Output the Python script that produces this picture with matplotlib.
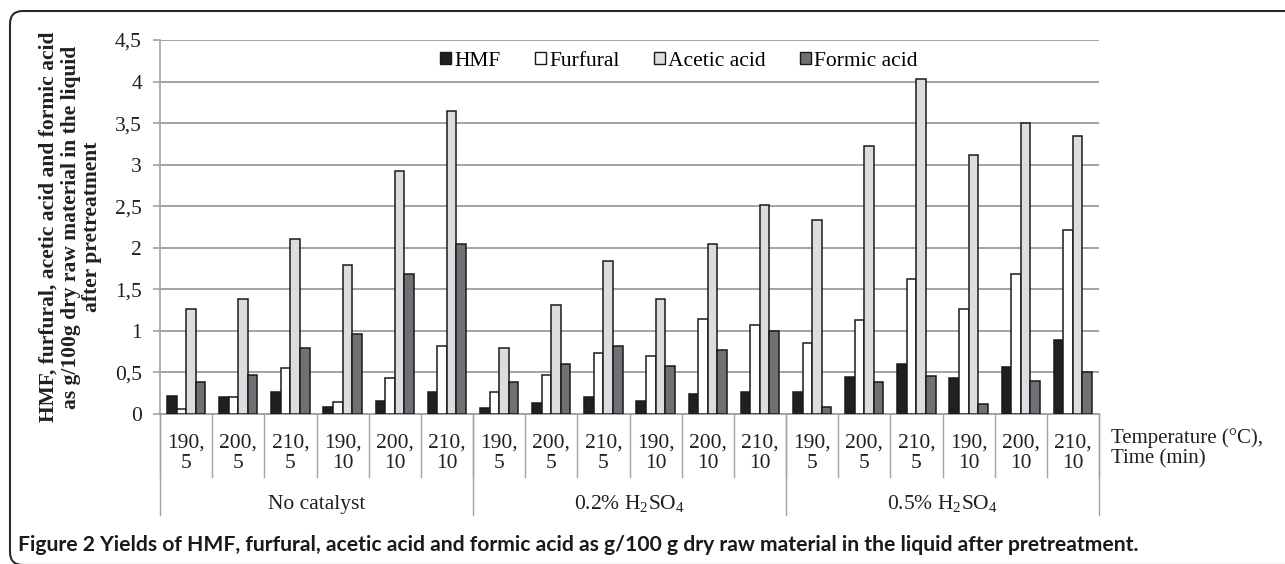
import matplotlib
matplotlib.use("Agg")
import matplotlib.pyplot as plt
from matplotlib.patches import FancyBboxPatch, Patch
from matplotlib.transforms import IdentityTransform, blended_transform_factory
from matplotlib.lines import Line2D
import numpy as np

# Pretreatment conditions: temperature (°C), time (min)
temps = ["190,", "200,", "210,", "190,", "200,", "210,"] * 3
times = ["5", "5", "5", "10", "10", "10"] * 3
groups = ["No catalyst",
          r"0.2% H$_\mathregular{2}$SO$_\mathregular{4}$",
          r"0.5% H$_\mathregular{2}$SO$_\mathregular{4}$"]

# Yields, g/100 g dry raw material
hmf = [0.22, 0.20, 0.27, 0.08, 0.16, 0.26,
       0.07, 0.13, 0.20, 0.16, 0.24, 0.26,
       0.27, 0.44, 0.60, 0.43, 0.57, 0.89]
furfural = [0.06, 0.20, 0.55, 0.14, 0.43, 0.82,
            0.26, 0.47, 0.73, 0.70, 1.14, 1.07,
            0.85, 1.13, 1.62, 1.26, 1.68, 2.21]
acetic = [1.26, 1.38, 2.10, 1.79, 2.92, 3.64,
          0.80, 1.31, 1.84, 1.38, 2.05, 2.52,
          2.34, 3.23, 4.03, 3.12, 3.50, 3.35]
formic = [0.38, 0.47, 0.80, 0.96, 1.69, 2.05,
          0.39, 0.60, 0.82, 0.58, 0.77, 1.00,
          0.08, 0.39, 0.46, 0.12, 0.40, 0.50]

series = [("HMF", hmf, "#231f20"),
          ("Furfural", furfural, "#ffffff"),
          ("Acetic acid", acetic, "#dcdddf"),
          ("Formic acid", formic, "#707174")]

yticks = [0, 0.5, 1, 1.5, 2, 2.5, 3, 3.5, 4, 4.5]
ytick_labels = ["0", "0,5", "1", "1,5", "2", "2,5", "3", "3,5", "4", "4,5"]

SERIF = "Liberation Serif"
TXT = "#231f20"
GRID = "#a3a3a3"
FS = 15.5

W, H = 1285, 564
fig = plt.figure(figsize=(W / 100, H / 100), dpi=100)
fig.patch.set_facecolor("white")

# rounded frame around the figure
frame = FancyBboxPatch((10, -1), 1400, H - 11 + 1,
                       boxstyle="round,pad=0,rounding_size=13",
                       transform=IdentityTransform(), fill=False,
                       edgecolor="#2a2a2a", linewidth=1.5, zorder=10)
fig.patches.append(frame)

ax_l, ax_r, ax_t, ax_b = 160, 1099, 40, 414
ax = fig.add_axes([ax_l / W, 1 - ax_b / H, (ax_r - ax_l) / W, (ax_b - ax_t) / H])

n = len(temps)
x = np.arange(n)
bw = 0.183
for k, (name, vals, col) in enumerate(series):
    ax.bar(x + (k - 1.5) * bw, vals, width=bw, color=col,
           edgecolor="#1a1a1a", linewidth=1.1, label=name, zorder=3)

ax.set_xlim(-0.5, n - 0.5)
ax.set_ylim(0, 4.5)
ax.set_yticks(yticks)
ax.set_yticklabels(ytick_labels, fontfamily=SERIF, fontsize=FS, color=TXT)
ax.yaxis.grid(True, color=GRID, linewidth=1.4, zorder=0)
ax.set_axisbelow(True)
ax.tick_params(axis="y", length=5, width=1.2, color=GRID, pad=8)
ax.set_xticks([])
for s in ["top", "right"]:
    ax.spines[s].set_visible(False)
ax.spines["left"].set_color(GRID)
ax.spines["left"].set_linewidth(1.2)
ax.spines["bottom"].set_color(GRID)
ax.spines["bottom"].set_linewidth(1.4)

ax.set_ylabel("HMF, furfural, acetic acid and formic acid\n"
              "as g/100g dry raw material in the liquid\n"
              "after pretreatment",
              fontfamily=SERIF, fontsize=15.5, fontweight="bold",
              color=TXT, linespacing=1.12, labelpad=9)

# multi-level category axis
trans = blended_transform_factory(ax.transData, fig.transFigure)
fy = lambda py: 1 - py / H
for i in range(n):
    ax.text(i, fy(453), f"{temps[i]}\n{times[i]}", transform=trans,
            ha="center", va="center", fontfamily=SERIF, fontsize=FS,
            color=TXT, linespacing=1.1)
for b in np.arange(-0.5, n, 1.0):
    ax.add_line(Line2D([b, b], [fy(414), fy(477)], transform=trans,
                       color=GRID, linewidth=1.0, clip_on=False))
for g, name in enumerate(groups):
    ax.text(g * 6 + 2.5, fy(504), name, transform=trans, ha="center",
            va="center", fontfamily=SERIF, fontsize=FS, color=TXT)
for b in [-0.5, 5.5, 11.5, 17.5]:
    ax.add_line(Line2D([b, b], [fy(414), fy(515)], transform=trans,
                       color=GRID, linewidth=1.0, clip_on=False))

fig.text(1111 / W, fy(448), "Temperature (°C),\nTime (min)",
         ha="left", va="center", fontfamily=SERIF, fontsize=15,
         color=TXT, linespacing=1.1)

handles = [Patch(facecolor=c, edgecolor="#1a1a1a", linewidth=1.0)
           for _, _, c in series]
fig.legend(handles, [s[0] for s in series], loc="center",
           bbox_to_anchor=(679 / W, fy(61)), ncol=4, frameon=False,
           prop={"family": SERIF, "size": FS}, handlelength=0.5,
           handleheight=0.5, handletextpad=0.15, columnspacing=1.6)

fig.text(18 / W, fy(545),
         "Figure 2 Yields of HMF, furfural, acetic acid and formic acid as "
         "g/100 g dry raw material in the liquid after pretreatment.",
         ha="left", va="center", fontfamily="Lato",
         fontweight="bold", fontsize=15.2, color="#1a1a1a")

fig.savefig("out.png", dpi=100, facecolor="white")
